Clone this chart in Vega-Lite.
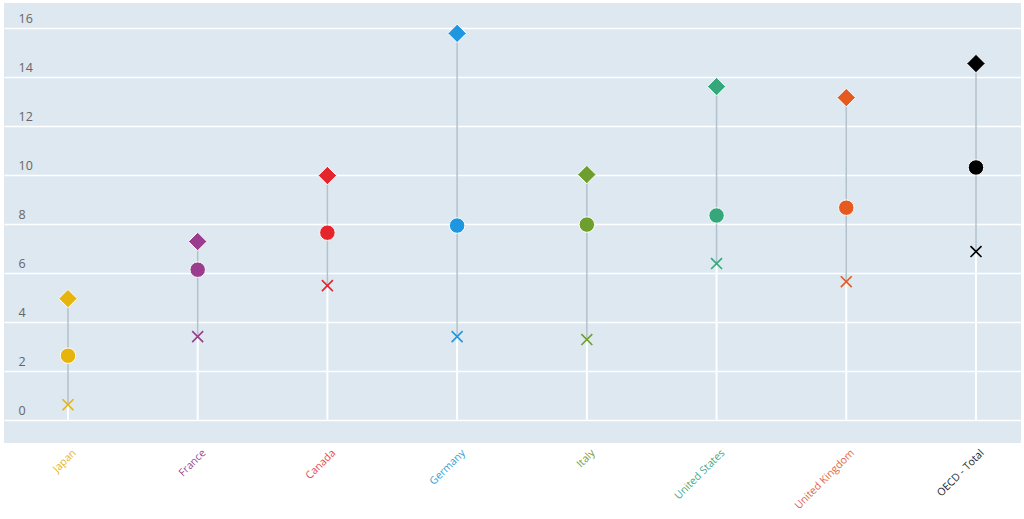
{
  "$schema": "https://vega.github.io/schema/vega-lite/v6.json",
  "autosize": {"type": "none"},
  "padding": {"left": 4, "top": 3, "right": 3, "bottom": 76},
  "width": 1017,
  "height": 440,
  "background": "white",
  "config": {
    "view": {"fill": "#dde8f0", "stroke": null},
    "font": "Open Sans"
  },
  "data": {
    "values": [
      {"country": "Japan", "low": 0.61, "mid": 2.61, "high": 4.94},
      {"country": "France", "low": 3.39, "mid": 6.12, "high": 7.27},
      {"country": "Canada", "low": 5.47, "mid": 7.63, "high": 9.96},
      {"country": "Germany", "low": 3.39, "mid": 7.92, "high": 15.76},
      {"country": "Italy", "low": 3.27, "mid": 7.96, "high": 10.0},
      {"country": "United States", "low": 6.37, "mid": 8.33, "high": 13.59},
      {"country": "United Kingdom", "low": 5.63, "mid": 8.65, "high": 13.14},
      {"country": "OECD - Total", "low": 6.86, "mid": 10.29, "high": 14.53}
    ]
  },
  "encoding": {
    "x": {
      "field": "country",
      "type": "nominal",
      "sort": null,
      "scale": {"type": "point", "padding": 0.42, "align": 0.587},
      "axis": {
        "title": null,
        "domain": false,
        "ticks": false,
        "grid": false,
        "labelAngle": -45,
        "labelAlign": "right",
        "labelBaseline": "middle",
        "labelPadding": 8,
        "labelOffset": 6,
        "labelFontSize": 10.5,
        "labelColor": {
          "condition": [
            {"test": "datum.value === 'Japan'", "value": "#e3b52a"},
            {"test": "datum.value === 'France'", "value": "#9a4a8e"},
            {"test": "datum.value === 'Canada'", "value": "#de4a4f"},
            {"test": "datum.value === 'Germany'", "value": "#3c9ad8"},
            {"test": "datum.value === 'Italy'", "value": "#76a040"},
            {"test": "datum.value === 'United States'", "value": "#4aa882"},
            {"test": "datum.value === 'United Kingdom'", "value": "#e0674a"}
          ],
          "value": "#222222"
        }
      }
    }
  },
  "layer": [
    {
      "mark": {"type": "rule", "color": "#ffffff", "strokeWidth": 2},
      "encoding": {
        "y": {
          "field": "low",
          "type": "quantitative",
          "scale": {"domain": [-0.95, 17], "nice": false, "zero": false},
          "axis": {
            "title": null,
            "values": [0, 2, 4, 6, 8, 10, 12, 14, 16],
            "domain": false,
            "ticks": false,
            "grid": true,
            "gridColor": "#ffffff",
            "gridWidth": 1.6,
            "gridOpacity": 1,
            "labelAlign": "left",
            "labelPadding": -14,
            "labelBaseline": "middle",
            "labelOffset": -9,
            "labelFontSize": 12.5,
            "labelColor": "#666666"
          }
        },
        "y2": {"datum": 0}
      }
    },
    {
      "mark": {"type": "rule", "strokeWidth": 1.5, "color": "#b3c2cc"},
      "encoding": {
        "y": {"field": "low", "type": "quantitative"},
        "y2": {"field": "high"}
      }
    },
    {
      "mark": {"type": "point", "shape": "M-1,-1L1,1M-1,1L1,-1", "filled": false, "strokeWidth": 1.6, "size": 120, "opacity": 1},
      "encoding": {
        "y": {"field": "low", "type": "quantitative"},
        "color": {"field": "country", "type": "nominal", "legend": null, "scale": {"domain": ["Japan", "France", "Canada", "Germany", "Italy", "United States", "United Kingdom", "OECD - Total"], "range": ["#e6b40a", "#993d8c", "#e4262c", "#1f96e0", "#6e9e2e", "#35a77a", "#e55a1f", "#000000"]}}
      }
    },
    {
      "mark": {"type": "point", "shape": "circle", "filled": true, "size": 240, "opacity": 1, "stroke": "#ffffff", "strokeWidth": 1},
      "encoding": {
        "y": {"field": "mid", "type": "quantitative"},
        "fill": {"field": "country", "type": "nominal", "legend": null, "scale": {"domain": ["Japan", "France", "Canada", "Germany", "Italy", "United States", "United Kingdom", "OECD - Total"], "range": ["#e6b40a", "#993d8c", "#e4262c", "#1f96e0", "#6e9e2e", "#35a77a", "#e55a1f", "#000000"]}}
      }
    },
    {
      "mark": {"type": "point", "shape": "diamond", "filled": true, "size": 340, "opacity": 1, "stroke": "#ffffff", "strokeWidth": 1},
      "encoding": {
        "y": {"field": "high", "type": "quantitative"},
        "fill": {"field": "country", "type": "nominal", "legend": null}
      }
    }
  ]
}
